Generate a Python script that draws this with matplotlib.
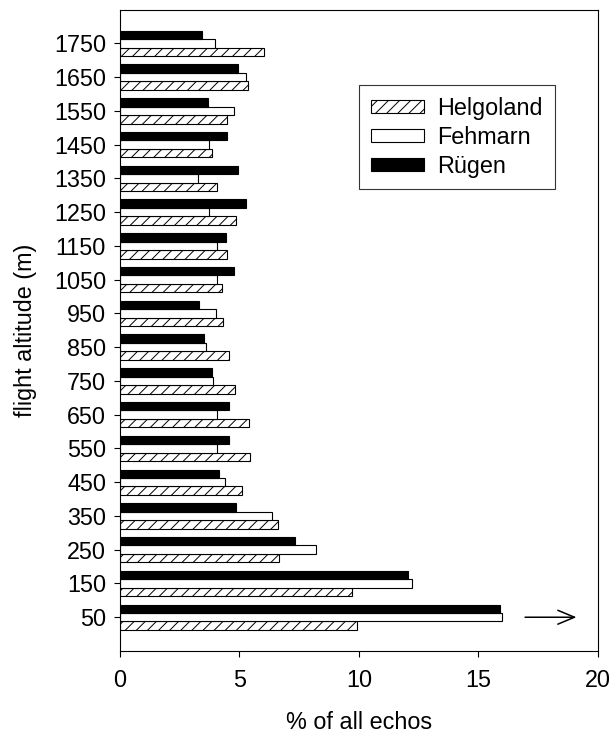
import numpy as np
import matplotlib
matplotlib.use('Agg')
import matplotlib.pyplot as plt

plt.rcParams['font.family'] = ['Liberation Sans', 'DejaVu Sans']
plt.rcParams['hatch.linewidth'] = 0.7

# altitude classes (m) and share of echos (%)
altitudes = [50, 150, 250, 350, 450, 550, 650, 750, 850, 950,
             1050, 1150, 1250, 1350, 1450, 1550, 1650, 1750]
helgoland = [9.90, 9.69, 6.67, 6.62, 5.10, 5.45, 5.41, 4.82, 4.55, 4.30,
             4.27, 4.46, 4.84, 4.07, 3.84, 4.46, 5.37, 6.03]
fehmarn = [16.00, 12.23, 8.19, 6.34, 4.38, 4.08, 4.04, 3.91, 3.61, 4.03,
           4.07, 4.07, 3.74, 3.28, 3.74, 4.78, 5.28, 3.99]
ruegen = [15.88, 12.05, 7.32, 4.87, 4.16, 4.58, 4.58, 3.86, 3.51, 3.31,
          4.76, 4.45, 5.27, 4.95, 4.48, 3.67, 4.94, 3.44]
labels = ['Helgoland', 'Fehmarn', 'Rügen']

fs = 16.8
fig = plt.figure(figsize=(6.14, 7.36), dpi=100)
ax = fig.add_axes([0.1954, 0.1155, 0.7785, 0.8715])

y = np.array(altitudes)
h = 25
ax.barh(y - h, helgoland, height=h, color='white', edgecolor='black',
        linewidth=0.8, hatch='///', label=labels[0])
ax.barh(y, fehmarn, height=h, color='white', edgecolor='black',
        linewidth=0.8, label=labels[1])
ax.barh(y + h, ruegen, height=h, color='black', edgecolor='black',
        linewidth=0.8, label=labels[2])

ax.annotate('', xy=(19.1, 50), xytext=(16.95, 50),
            arrowprops=dict(arrowstyle='->,head_length=0.6,head_width=0.25',
                            lw=1.1, color='black', mutation_scale=20,
                            shrinkA=0, shrinkB=0))

ax.set_xlim(0, 20)
ax.set_ylim(-50, 1850)
ax.set_xticks([0, 5, 10, 15, 20])
ax.set_yticks(altitudes)
ax.tick_params(direction='out', length=4, width=0.8, labelsize=fs, pad=6)
ax.tick_params(axis='x', pad=9)
for s in ax.spines.values():
    s.set_linewidth(0.8)

ax.set_xlabel('% of all echos', fontsize=fs, labelpad=14)
ax.set_ylabel('flight altitude (m)', fontsize=fs, labelpad=12)

leg = ax.legend(loc='upper left', bbox_to_anchor=(0.5, 0.882), fontsize=fs,
                frameon=True, fancybox=False, edgecolor='black',
                handlelength=2.27, handleheight=0.46, labelspacing=0.25,
                borderpad=0.5, handletextpad=0.6, borderaxespad=0)
leg.get_frame().set_linewidth(0.8)

fig.savefig('out.png', dpi=100)
